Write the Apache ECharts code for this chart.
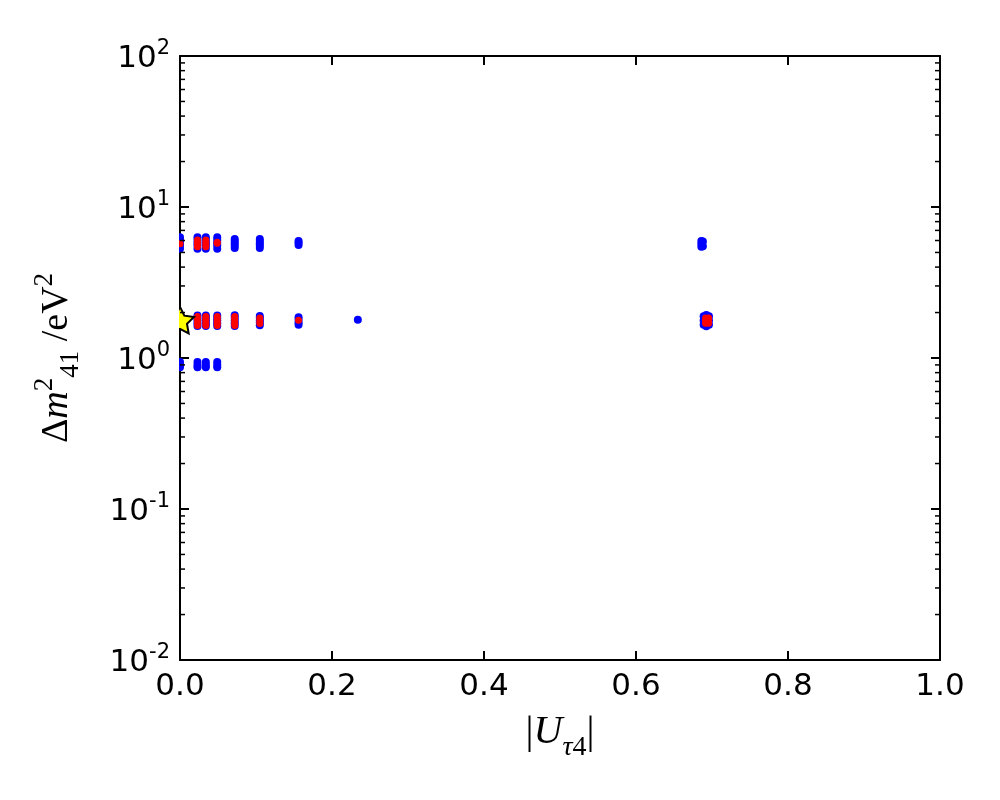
<!DOCTYPE html>
<html>
<head>
<meta charset="utf-8">
<script src="https://cdn.jsdelivr.net/npm/echarts@6/dist/echarts.min.js"></script>
<style>
  html, body { margin: 0; background: #fff; }
  #main { width: 1000px; height: 800px; }
</style>
</head>
<body>
<div id="main"></div>
<script>
// 数据 [|U_tau4|, dm41^2 (eV^2)] —— 估计值
// 蓝点：上面一条带 (~6 eV^2)
var blueTop = [
  [0, 5.3], [0, 5.55], [0, 5.8], [0, 6.05], [0, 6.3],
  [0.023, 5.3], [0.023, 5.55], [0.023, 5.8], [0.023, 6.05], [0.023, 6.3],
  [0.034, 5.3], [0.034, 5.55], [0.034, 5.8], [0.034, 6.05], [0.034, 6.3],
  [0.049, 5.3], [0.049, 5.55], [0.049, 5.8], [0.049, 6.05], [0.049, 6.3],
  [0.072, 5.35], [0.072, 5.55], [0.072, 5.75], [0.072, 5.95], [0.072, 6.15],
  [0.105, 5.35], [0.105, 5.55], [0.105, 5.75], [0.105, 5.95], [0.105, 6.15],
  [0.156, 5.6], [0.156, 5.8], [0.156, 5.95],
  [0.686, 5.45], [0.686, 5.7], [0.686, 5.95], [0.688, 5.5], [0.688, 5.9]
];
// 蓝点：中间一条带 (~1.75 eV^2)
var blueMid = [
  [0, 1.63], [0, 1.7], [0, 1.77], [0, 1.84], [0, 1.91],
  [0.023, 1.63], [0.023, 1.7], [0.023, 1.77], [0.023, 1.84], [0.023, 1.91],
  [0.034, 1.63], [0.034, 1.7], [0.034, 1.77], [0.034, 1.84], [0.034, 1.91],
  [0.049, 1.63], [0.049, 1.7], [0.049, 1.77], [0.049, 1.84], [0.049, 1.91],
  [0.072, 1.63], [0.072, 1.7], [0.072, 1.77], [0.072, 1.85], [0.072, 1.92],
  [0.105, 1.65], [0.105, 1.71], [0.105, 1.77], [0.105, 1.84], [0.105, 1.9],
  [0.156, 1.66], [0.156, 1.72], [0.156, 1.79], [0.156, 1.86],
  [0.234, 1.79],
  [0.689, 1.66], [0.689, 1.77], [0.689, 1.89],
  [0.6925, 1.62], [0.6925, 1.7], [0.6925, 1.78], [0.6925, 1.86], [0.6925, 1.93],
  [0.696, 1.66], [0.696, 1.77], [0.696, 1.89]
];
// 蓝点：下面一条带 (~0.9 eV^2)
var blueLow = [
  [0, 0.87], [0, 0.9], [0, 0.94],
  [0.023, 0.87], [0.023, 0.9], [0.023, 0.94],
  [0.034, 0.87], [0.034, 0.9], [0.034, 0.94],
  [0.049, 0.87], [0.049, 0.9], [0.049, 0.94]
];
// 红点
var redTop = [
  [0, 5.7],
  [0.023, 5.45], [0.023, 5.65], [0.023, 5.85], [0.023, 6.05],
  [0.034, 5.45], [0.034, 5.65], [0.034, 5.85], [0.034, 6.05],
  [0.049, 5.75], [0.049, 5.85]
];
var redMid = [
  [0.023, 1.64], [0.023, 1.7], [0.023, 1.76], [0.023, 1.82], [0.023, 1.88],
  [0.034, 1.64], [0.034, 1.7], [0.034, 1.76], [0.034, 1.82], [0.034, 1.88],
  [0.049, 1.64], [0.049, 1.7], [0.049, 1.76], [0.049, 1.82], [0.049, 1.88],
  [0.072, 1.64], [0.072, 1.7], [0.072, 1.76], [0.072, 1.82], [0.072, 1.88],
  [0.105, 1.69], [0.105, 1.76], [0.105, 1.84],
  [0.156, 1.78],
  [0.6915, 1.7], [0.6915, 1.77], [0.6915, 1.84],
  [0.6955, 1.7], [0.6955, 1.77], [0.6955, 1.84]
];
// 最佳拟合点（星）
var bestFit = [[0, 1.78]];

var xMin = 0, xMax = 1, xStep = 0.2;
var yMin = 0.01, yMax = 100;
var minorMult = [2, 3, 4, 5, 6, 7, 8, 9];

var starPath = 'path://M0,-10L2.94,-4.05L9.51,-3.09L4.76,1.55L5.88,8.09L0,5L-5.88,8.09L-4.76,1.55L-9.51,-3.09L-2.94,-4.05Z';

var axisCommon = {
  axisLine: { onZero: false, lineStyle: { color: '#000', width: 2 } },
  axisTick: { inside: true, length: 9, lineStyle: { color: '#000', width: 2 } },
  splitLine: { show: false }
};

var serif = 'Liberation Serif';

var myChart = echarts.init(document.getElementById('main'));

myChart.setOption({
  animation: false,
  backgroundColor: '#fff',
  textStyle: { fontFamily: 'DejaVu Sans' },
  grid: { left: 180, right: 60, top: 56, bottom: 140 },
  xAxis: [
    Object.assign({
      type: 'value', position: 'bottom', min: xMin, max: xMax, interval: xStep,
      axisLabel: {
        color: '#000', fontSize: 31, margin: 11,
        formatter: function (v) { return v.toFixed(1); }
      },
      name: '{a||}{i|U}{si|τ}{s|4}{a||}',
      nameLocation: 'middle',
      nameGap: 52,
      nameTextStyle: {
        rich: {
          a: { fontFamily: serif, fontSize: 40, color: '#000', verticalAlign: 'bottom', padding: [0, 0, 10, 0] },
          i: { fontFamily: serif, fontStyle: 'italic', fontSize: 40, color: '#000', verticalAlign: 'bottom', padding: [0, 0, 10, 0] },
          si: { fontFamily: serif, fontStyle: 'italic', fontSize: 28, color: '#000', verticalAlign: 'bottom' },
          s: { fontFamily: serif, fontSize: 28, color: '#000', verticalAlign: 'bottom' }
        }
      }
    }, axisCommon),
    Object.assign({
      type: 'value', position: 'top', min: xMin, max: xMax, interval: xStep,
      axisLabel: { show: false }
    }, axisCommon)
  ],
  yAxis: [
    Object.assign({
      type: 'log', logBase: 10, position: 'left', min: yMin, max: yMax,
      axisLabel: {
        margin: 10,
        formatter: function (v) {
          var e = Math.round(Math.log10(v));
          return '{b|10}{e|' + e + '}';
        },
        rich: {
          b: { fontSize: 31, color: '#000', fontFamily: 'DejaVu Sans', verticalAlign: 'bottom' },
          e: { fontSize: 21, color: '#000', fontFamily: 'DejaVu Sans', verticalAlign: 'bottom', padding: [0, 0, 15, 0] }
        }
      },
      name: '{a|Δ}{i|m}{sp|2}{sb|41}{a| /eV}{sp|2}',
      nameLocation: 'middle',
      nameRotate: 90,
      nameGap: 96,
      nameTextStyle: {
        rich: {
          a: { fontFamily: serif, fontSize: 38, color: '#000', verticalAlign: 'bottom', padding: [0, 0, 8, 0] },
          i: { fontFamily: serif, fontStyle: 'italic', fontSize: 38, color: '#000', verticalAlign: 'bottom', padding: [0, 0, 8, 0] },
          sp: { fontFamily: serif, fontSize: 27, color: '#000', verticalAlign: 'bottom', padding: [0, 0, 26, 0] },
          sb: { fontFamily: serif, fontSize: 27, color: '#000', verticalAlign: 'bottom' }
        }
      }
    }, axisCommon),
    Object.assign({
      type: 'log', logBase: 10, position: 'right', min: yMin, max: yMax,
      axisLabel: { show: false }
    }, axisCommon)
  ],
  series: [
    { type: 'scatter', data: blueTop, symbolSize: 8, itemStyle: { color: '#0000ff', opacity: 1 } },
    { type: 'scatter', data: blueMid, symbolSize: 8, itemStyle: { color: '#0000ff', opacity: 1 } },
    { type: 'scatter', data: blueLow, symbolSize: 8, itemStyle: { color: '#0000ff', opacity: 1 } },
    { type: 'scatter', data: redTop, symbolSize: 7, itemStyle: { color: '#ff0000', opacity: 1 } },
    { type: 'scatter', data: redMid, symbolSize: 7, itemStyle: { color: '#ff0000', opacity: 1 } },
    {
      type: 'scatter', data: bestFit, symbol: starPath, symbolKeepAspect: true, symbolSize: 28,
      itemStyle: { color: '#ffff00', borderColor: '#000', borderWidth: 2, opacity: 1 }, z: 5
    }
  ]
});

// 对数轴的次刻度 (2..9 × 10^n)，左右两边都画
var xl = myChart.convertToPixel({ xAxisIndex: 0 }, xMin);
var xr = myChart.convertToPixel({ xAxisIndex: 0 }, xMax);
var yTop = myChart.convertToPixel({ yAxisIndex: 0 }, yMax);
var graphics = [];
for (var n = Math.log10(yMin); n < Math.log10(yMax); n++) {
  minorMult.forEach(function (k) {
    var py = myChart.convertToPixel({ yAxisIndex: 0 }, k * Math.pow(10, n));
    graphics.push({ type: 'line', shape: { x1: xl, y1: py, x2: xl + 5, y2: py }, style: { stroke: '#000', lineWidth: 1.5 }, z: 10 });
    graphics.push({ type: 'line', shape: { x1: xr, y1: py, x2: xr - 5, y2: py }, style: { stroke: '#000', lineWidth: 1.5 }, z: 10 });
  });
}
// 绘图区外的部分被裁掉（像 matplotlib 一样），用白块盖住轴左边露出来的符号
var pStar = myChart.convertToPixel({ xAxisIndex: 0, yAxisIndex: 0 }, bestFit[0]);
graphics.push({ type: 'rect', shape: { x: xl - 16, y: pStar[1] - 17, width: 15, height: 34 }, style: { fill: '#fff' }, z: 9 });
graphics.push({ type: 'rect', shape: { x: xl - 8, y: yTop + 150, width: 7, height: 180 }, style: { fill: '#fff' }, z: 9 });
myChart.setOption({ graphic: graphics });
</script>
</body>
</html>
